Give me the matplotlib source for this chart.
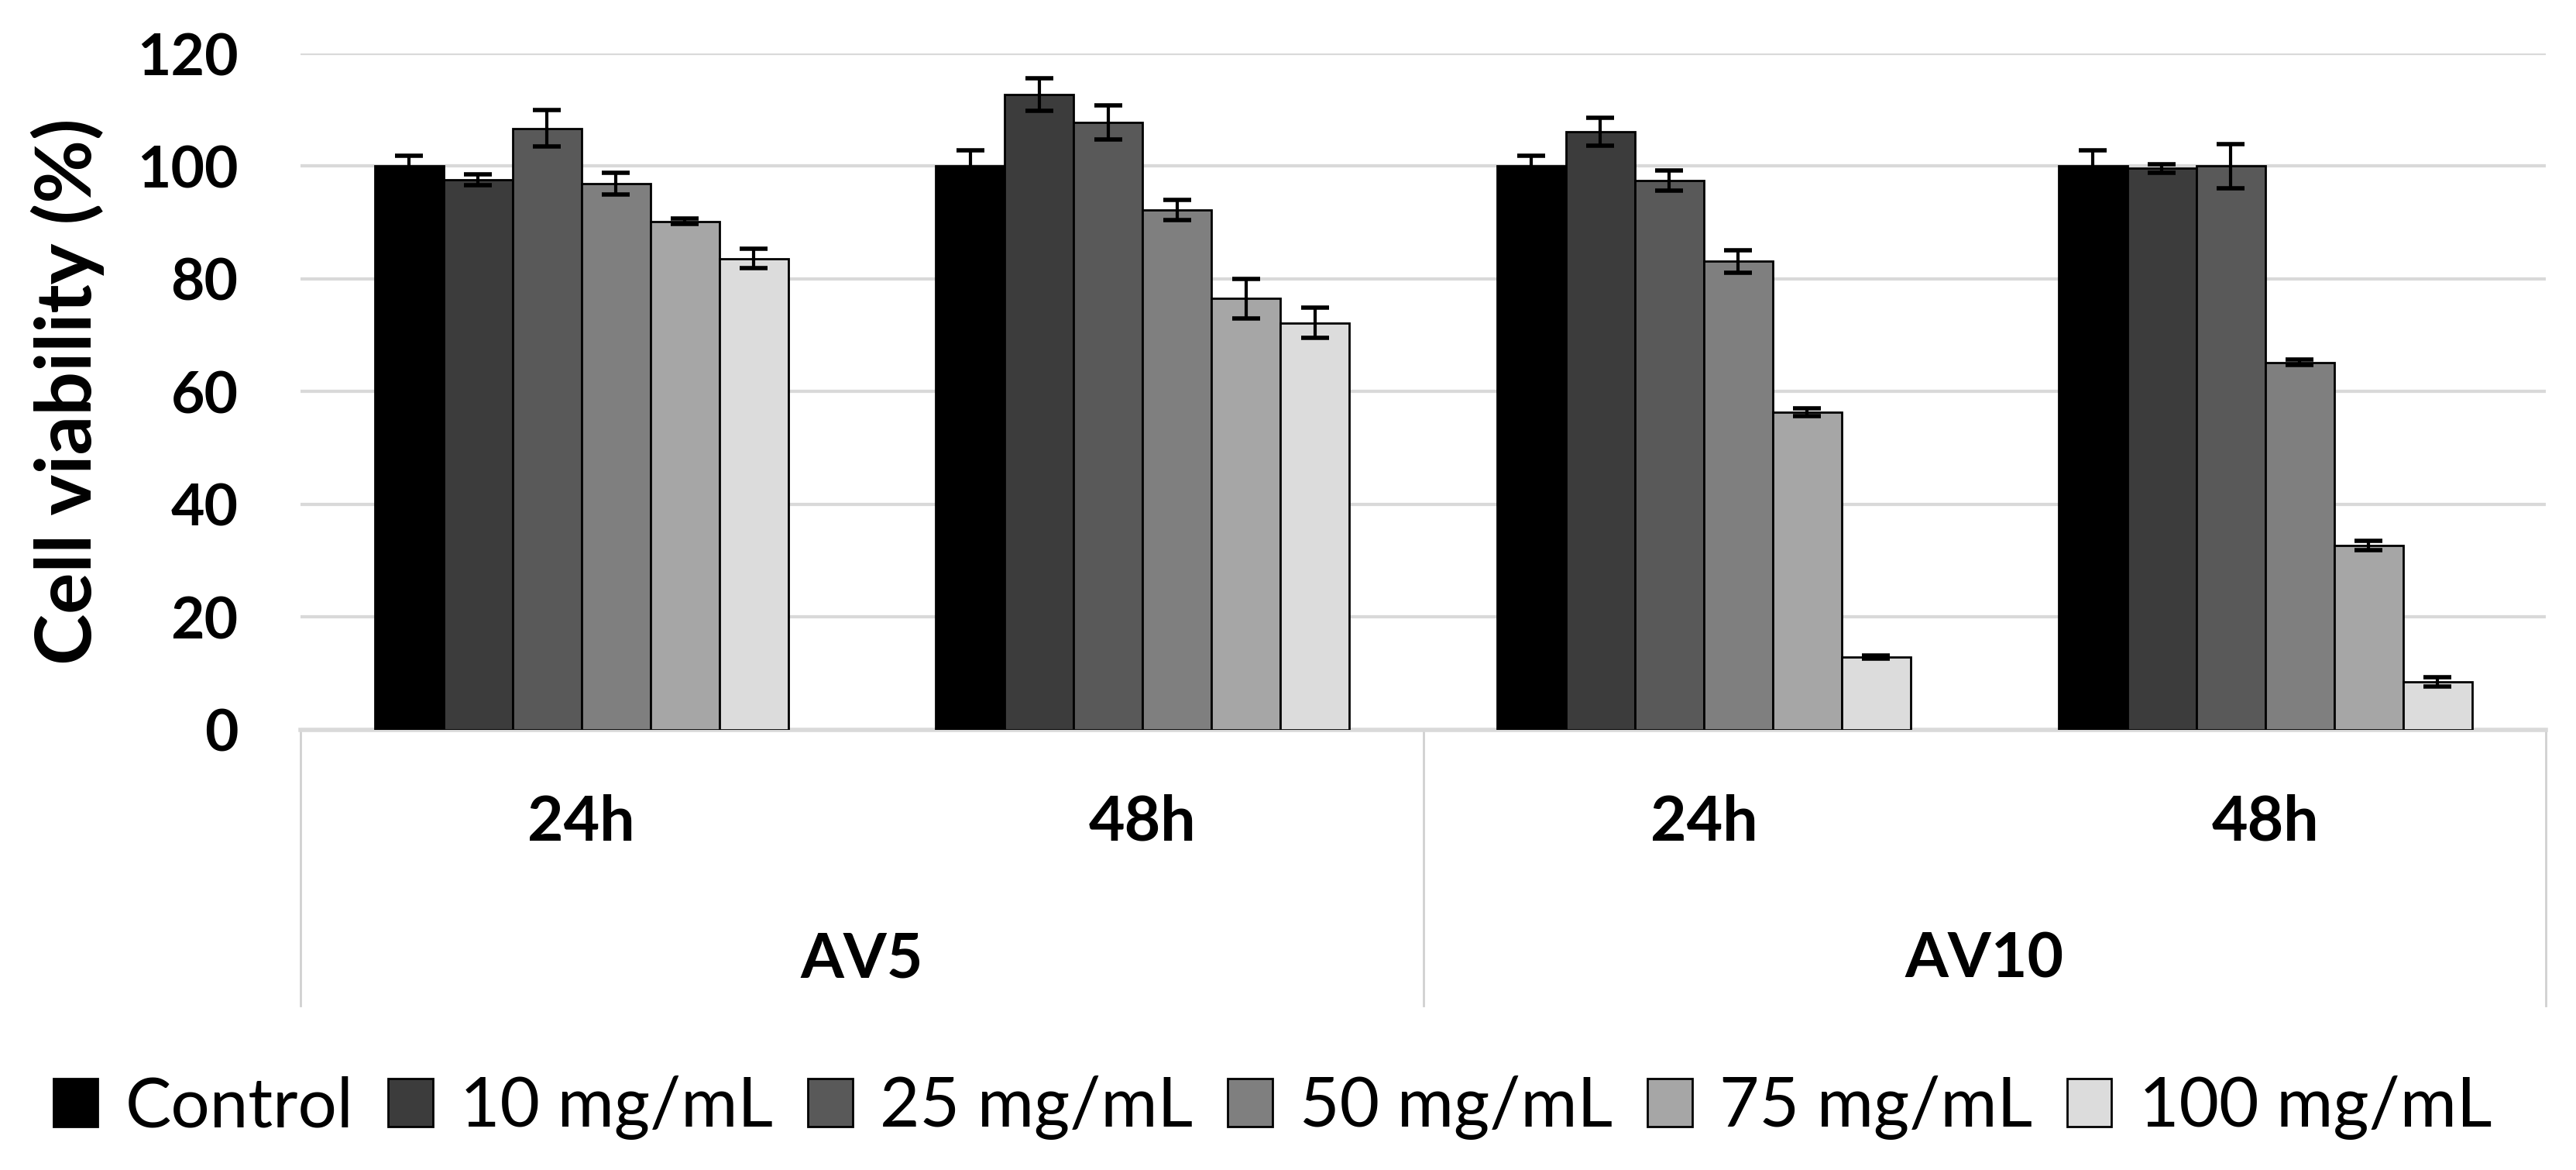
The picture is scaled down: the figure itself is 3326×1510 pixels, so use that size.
import numpy as np
import matplotlib
matplotlib.use('Agg')
import matplotlib.pyplot as plt
import matplotlib.transforms as mtransforms

plt.rcParams['font.family'] = ['Lato', 'DejaVu Sans']

# data
times = ['24h', '48h', '24h', '48h']
extracts = ['AV5', 'AV10']
doses = ['Control', '10 mg/mL', '25 mg/mL', '50 mg/mL', '75 mg/mL', '100 mg/mL']

control = [100.0, 100.0, 100.0, 100.0]
d10 = [97.6, 112.7, 106.1, 99.6]
d25 = [106.7, 107.8, 97.5, 100.0]
d50 = [96.9, 92.2, 83.1, 65.2]
d75 = [90.2, 76.5, 56.4, 32.7]
d100 = [83.6, 72.2, 12.9, 8.5]

control_err = [1.8, 2.8, 1.8, 2.8]
d10_err = [1.0, 2.9, 2.5, 0.8]
d25_err = [3.2, 3.0, 1.8, 3.9]
d50_err = [1.9, 1.8, 2.0, 0.5]
d75_err = [0.5, 3.5, 0.7, 0.8]
d100_err = [1.7, 2.7, 0.3, 0.8]

vals = [control, d10, d25, d50, d75, d100]
errs = [control_err, d10_err, d25_err, d50_err, d75_err, d100_err]
colors = ['#000000', '#3c3c3c', '#595959', '#7f7f7f', '#a6a6a6', '#dcdcdc']

fig = plt.figure(figsize=(33.26, 15.10), dpi=100)
ax = fig.add_axes([0.1167, 0.3762, 0.8716, 0.5781])

x = np.arange(len(times))
w = 0.1228
for i in range(6):
    ax.bar(x + (i - 2.5) * w, vals[i], w, color=colors[i], edgecolor='black',
           linewidth=2, label=doses[i], zorder=3)
    ax.errorbar(x + (i - 2.5) * w, vals[i], yerr=errs[i], fmt='none',
                ecolor='black', elinewidth=3, capsize=13, capthick=4, zorder=4)

ax.set_xlim(-0.5, 3.5)
ax.set_ylim(0, 120)
ax.set_yticks(range(0, 121, 20))
ax.tick_params(axis='y', length=0, pad=58, labelsize=54)
for t in ax.get_yticklabels():
    t.set_fontweight('bold')
ax.set_xticks([])
ax.yaxis.grid(True, color='#d9d9d9', linewidth=3, zorder=0)
ax.set_axisbelow(True)
for s in ['top', 'right', 'left']:
    ax.spines[s].set_visible(False)
ax.spines['bottom'].set_color('#d9d9d9')
ax.spines['bottom'].set_linewidth(4)

ax.set_ylabel('Cell viability (%)', fontsize=72, fontweight='bold', labelpad=30)

# category box below the axis
trans = mtransforms.blended_transform_factory(ax.transData, ax.transAxes)
for xb in [-0.5, 1.5, 3.5]:
    ax.plot([xb, xb], [0, -0.408], color='#d0d0d0', linewidth=2,
            transform=trans, clip_on=False)
for xi, t in zip(x, times):
    ax.text(xi, -0.137, t, transform=trans, ha='center', va='center',
            fontsize=58, fontweight='bold')
for k, e in enumerate(extracts):
    ax.text(0.5 + 2 * k, -0.340, e, transform=trans, ha='center', va='center',
            fontsize=58, fontweight='bold')

fig.legend(loc='center', bbox_to_anchor=(0.494, 0.053), ncol=6, frameon=False,
           fontsize=64, handlelength=0.65, handleheight=0.7,
           handletextpad=0.4, columnspacing=0.5)

plt.savefig('out.png', dpi=100)
